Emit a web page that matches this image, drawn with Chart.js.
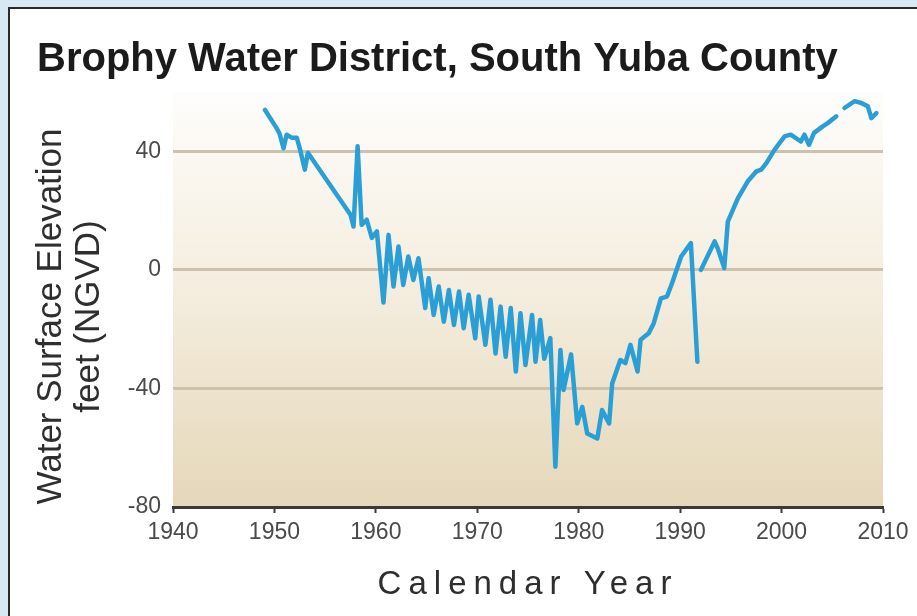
<!DOCTYPE html>
<html>
<head>
<meta charset="utf-8">
<script src="https://cdn.jsdelivr.net/npm/chart.js@4.4.1/dist/chart.umd.min.js"></script>
<style>
  html, body { margin: 0; padding: 0; background: #d7eaf3; overflow: hidden; }
  #panel { position: absolute; left: 8px; top: 7px; width: 940px; height: 640px;
           background: #ffffff; border-left: 2px solid #2a2a2a; border-top: 2px solid #2a2a2a; }
  #chart { position: absolute; left: 0; top: 0; }
</style>
</head>
<body>
<div id="panel"></div>
<canvas id="chart" width="917" height="616"></canvas>
<script>
const titleText = 'Brophy Water District, South Yuba County';
const yTitle = ['Water Surface Elevation', 'feet (NGVD)'];
const xTitle = 'Calendar Year';
const xTicks = [1940, 1950, 1960, 1970, 1980, 1990, 2000, 2010];
const yTicks = [-80, -40, 0, 40];

// measurement dates (decimal years) and water surface elevation (ft), null = gap in record
const years = [
  1949.06, 1949.9, 1950.2, 1950.5, 1950.9, 1951.2, 1951.7, 1952.2, 1952.5, 1953.0, 1953.3,
  1957.5, 1957.8, 1958.2, 1958.6, 1959.1, 1959.6, 1960.1, 1960.75,
  1961.25, 1961.74, 1962.23, 1962.7, 1963.2, 1963.7, 1964.2, 1964.87, 1965.2, 1965.7,
  1966.2, 1966.7, 1967.2, 1967.7, 1968.2, 1968.66, 1969.15, 1969.8, 1970.14, 1970.8,
  1971.3, 1971.8, 1972.3, 1972.8, 1973.3, 1973.8, 1974.26, 1974.75, 1975.4, 1975.74,
  1976.2, 1976.6, 1977.2, 1977.7, 1978.2, 1978.5, 1979.25, 1979.85, 1980.35, 1980.84,
  1981.83, 1982.3, 1983.0, 1983.3, 1984.1, 1984.6, 1985.1, 1985.8, 1986.1, 1986.9,
  1987.4, 1988.1, 1988.7, 1989.2, 1990.1, 1991.06, 1991.7, 1991.9,
  1992.05, 1993.4, 1993.7, 1994.35, 1994.7, 1995.7, 1996.65, 1997.5, 1998.0, 1998.5,
  1999.3, 2000.3, 2000.9, 2001.9, 2002.25, 2002.7, 2003.2, 2004.06, 2004.55, 2005.4, 2005.8,
  2006.2, 2007.2, 2007.86, 2008.5, 2008.85, 2009.35
];
const levels = [
  54, 49.5, 47.9, 46, 41, 45.6, 44.6, 44.6, 41, 33.8, 39.5,
  18.6, 14.6, 41.7, 15.2, 16.9, 10.8, 13, -11,
  11.8, -5.6, 7.9, -5.1, 4.5, -3.4, 3.9, -12.9, -2.8, -15.2,
  -5.6, -17.5, -6.8, -18.6, -7.3, -19.7, -8.4, -23.1, -9.0, -25.3,
  -10.1, -28.2, -12.4, -29.3, -12.9, -34.3, -14.6, -32.1, -15.2, -31.0,
  -16.9, -30, -23, -66.4, -27, -40.5, -28.5, -51.8, -46.2, -55.2,
  -56.9, -47.3, -51.8, -38.3, -30.4, -31.5, -25.3, -34.3, -23.6, -21.4,
  -18, -9.6, -9.0, -4.5, 4.5, 9.0, -31, null,
  0, 9.6, 7.3, 0.6, 16.3, 24.2, 29.8, 33.2, 33.8, 36,
  40.5, 45, 45.6, 43.3, 45.6, 42.2, 46.2, 48.4, 49.5, 51.8, null,
  54.6, 56.9, 56.3, 55.2, 51.2, 52.9
];

const fontFamily = '"Liberation Sans", Arial, Helvetica, sans-serif';

// cream-to-tan plot background
const plotBackground = {
  id: 'plotBackground',
  beforeDraw(chart) {
    const { ctx, chartArea: a } = chart;
    const g = ctx.createLinearGradient(0, a.top, 0, a.bottom);
    g.addColorStop(0, '#fefdfb');
    g.addColorStop(0.45, '#f5eee0');
    g.addColorStop(1, '#e5d7b9');
    ctx.save();
    ctx.fillStyle = g;
    ctx.fillRect(a.left, a.top, a.right - a.left, a.bottom - a.top);
    ctx.restore();
  }
};

// letter-spaced x title, y title nudged down a little
const axisTitles = {
  id: 'axisTitles',
  afterLayout(chart) {
    const sx = chart.scales.x, sy = chart.scales.y;
    if (sx && !sx._patched) {
      const orig = sx.drawTitle;
      sx.drawTitle = function () {
        this.ctx.save();
        this.ctx.letterSpacing = '7px';
        orig.apply(this, arguments);
        this.ctx.restore();
      };
      sx._patched = true;
    }
    if (sy && !sy._patched) {
      const orig = sy.drawTitle;
      sy.drawTitle = function () {
        this.ctx.save();
        this.ctx.translate(0, 17);
        orig.apply(this, arguments);
        this.ctx.restore();
      };
      sy._patched = true;
    }
  }
};

new Chart(document.getElementById('chart'), {
  type: 'line',
  data: {
    datasets: [{
      data: years.map((x, i) => ({ x: x, y: levels[i] })),
      borderColor: '#2a9fd6',
      borderWidth: 4.5,
      pointRadius: 0,
      tension: 0,
      spanGaps: false,
      borderJoinStyle: 'round',
      borderCapStyle: 'round'
    }]
  },
  options: {
    responsive: false,
    animation: false,
    layout: { padding: { left: 37, right: 34, top: 0, bottom: 0 } },
    plugins: {
      legend: { display: false },
      tooltip: { enabled: false },
      title: {
        display: true,
        text: titleText,
        align: 'start',
        color: '#1b1b1b',
        font: { family: fontFamily, size: 40, weight: 'bold' },
        padding: { top: 36, bottom: 8 }
      }
    },
    scales: {
      x: {
        type: 'linear',
        min: 1940,
        max: 2010,
        afterBuildTicks: (scale) => { scale.ticks = xTicks.map(v => ({ value: v })); },
        afterFit: (scale) => { scale.height = 109; },
        grid: { drawOnChartArea: false, drawTicks: true, tickLength: 6, tickColor: '#3a3a3a', tickWidth: 2 },
        border: { display: true, color: '#3a3a3a', width: 3 },
        ticks: {
          color: '#4a4a4a', padding: 6, maxRotation: 0,
          font: { family: fontFamily, size: 23 },
          callback: (v) => String(v)
        },
        title: {
          display: true,
          text: xTitle,
          color: '#2e2e2e',
          font: { family: fontFamily, size: 33 },
          padding: { top: 0, bottom: 11 }
        }
      },
      y: {
        min: -80,
        max: 60,
        afterBuildTicks: (scale) => { scale.ticks = yTicks.map(v => ({ value: v })); },
        afterFit: (scale) => { scale.width = 136; },
        grid: {
          drawTicks: false,
          lineWidth: 3,
          color: (c) => c.tick && c.tick.value === -80 ? 'rgba(0,0,0,0)' : '#cdc2ae'
        },
        border: { display: false },
        ticks: {
          color: '#4a4a4a', padding: 12,
          font: { family: fontFamily, size: 23 },
          callback: (v) => String(v)
        },
        title: {
          display: true,
          text: yTitle,
          color: '#2e2e2e',
          font: { family: fontFamily, size: 35, lineHeight: 1.1 },
          padding: { top: -5, bottom: 0 }
        }
      }
    }
  },
  plugins: [plotBackground, axisTitles]
});
</script>
</body>
</html>
